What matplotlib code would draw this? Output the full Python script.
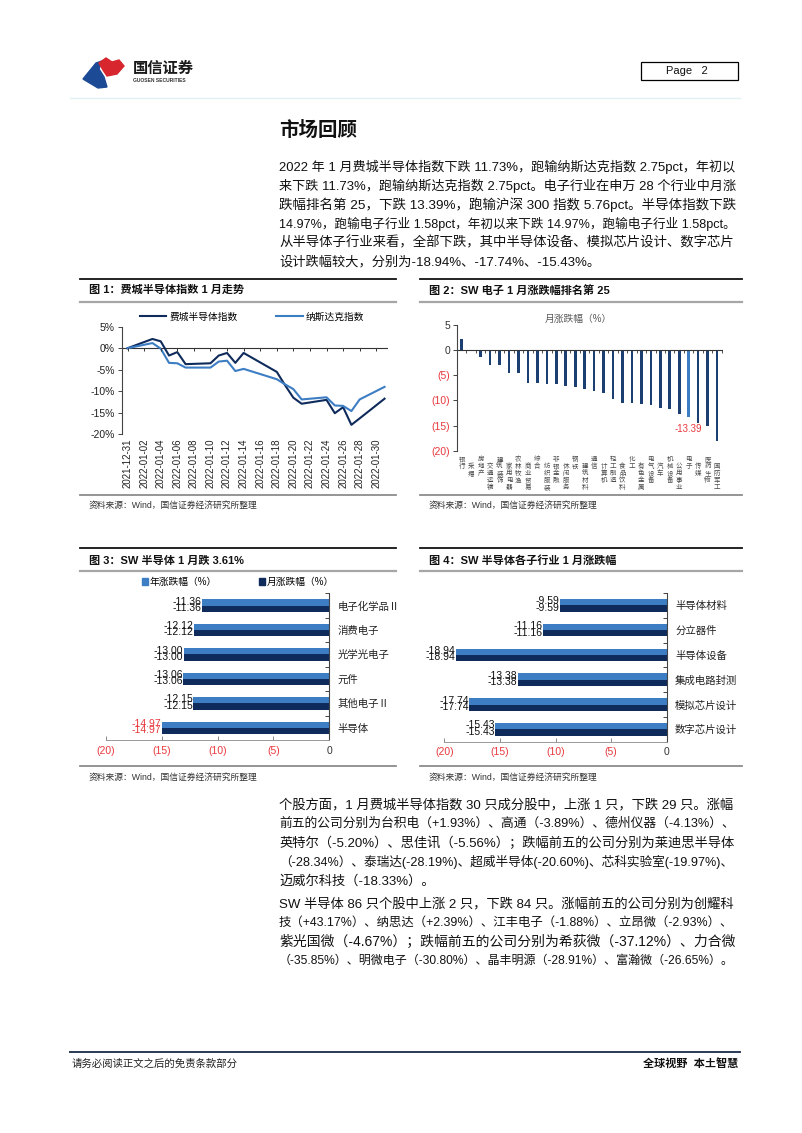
import matplotlib
matplotlib.use("Agg")
import matplotlib.pyplot as plt
import matplotlib.transforms as mtransforms
from matplotlib.lines import Line2D
from matplotlib.patches import Patch, Polygon, Rectangle
import numpy as np
import pandas as pd

plt.rcParams['font.family'] = ['Liberation Sans', 'Noto Sans CJK SC']
plt.rcParams['axes.unicode_minus'] = False

# ---- data -----------------------------------------------------------------
dates = ["2021-12-31", "2022-01-03", "2022-01-04", "2022-01-05", "2022-01-06",
         "2022-01-07", "2022-01-10", "2022-01-11", "2022-01-12", "2022-01-13",
         "2022-01-14", "2022-01-18", "2022-01-19", "2022-01-20", "2022-01-21",
         "2022-01-24", "2022-01-25", "2022-01-26", "2022-01-27", "2022-01-28",
         "2022-01-31"]
sox = [0, 2.15, 1.6, -1.7, -0.9, -3.7, -3.5, -1.7, -1.1, -3.4, -1.1, -5.5,
       -8.6, -11.5, -12.9, -12.0, -15.1, -13.7, -17.8, -16.3, -11.73]
nasdaq = [0, 1.2, -0.1, -3.4, -3.5, -4.5, -4.5, -3.1, -2.9, -5.3, -4.8, -7.2,
          -8.4, -9.5, -11.9, -11.4, -13.3, -13.4, -14.6, -11.9, -8.98]

sw_inds = ["银行", "采掘", "房地产", "交通运输", "建筑装饰", "家用电器", "农林牧渔",
           "商业贸易", "综合", "纺织服装", "非银金融", "休闲服务", "钢铁", "建筑材料",
           "通信", "计算机", "轻工制造", "食品饮料", "化工", "有色金属", "电气设备",
           "汽车", "机械设备", "公用事业", "电子", "传媒", "医药生物", "国防军工"]
sw_chg = [2.3, -0.1, -1.3, -2.9, -2.9, -4.6, -4.6, -6.6, -6.6, -6.7, -6.7, -7.2,
          -7.4, -7.7, -8.2, -8.5, -9.7, -10.6, -10.6, -10.8, -10.9, -11.6, -11.8,
          -12.8, -13.39, -14.4, -15.0, -18.0]

elec_subs = ["电子化学品Ⅱ", "消费电子", "光学光电子", "元件", "其他电子Ⅱ", "半导体"]
elec_year = [-11.36, -12.12, -13.00, -13.06, -12.15, -14.97]
elec_month = [-11.36, -12.12, -13.00, -13.06, -12.15, -14.97]

semi_subs = ["半导体材料", "分立器件", "半导体设备", "集成电路封测", "模拟芯片设计", "数字芯片设计"]
semi_year = [-9.59, -11.16, -18.94, -13.38, -17.74, -15.43]
semi_month = [-9.59, -11.16, -18.94, -13.38, -17.74, -15.43]

para1 = ["2022 年 1 月费城半导体指数下跌 11.73%，跑输纳斯达克指数 2.75pct，年初以",
         "来下跌 11.73%，跑输纳斯达克指数 2.75pct。电子行业在申万 28 个行业中月涨",
         "跌幅排名第 25，下跌 13.39%，跑输沪深 300 指数 5.76pct。半导体指数下跌",
         "14.97%，跑输电子行业 1.58pct，年初以来下跌 14.97%，跑输电子行业 1.58pct。",
         "从半导体子行业来看，全部下跌，其中半导体设备、模拟芯片设计、数字芯片",
         "设计跌幅较大，分别为-18.94%、-17.74%、-15.43%。"]
para2 = ["个股方面，1 月费城半导体指数 30 只成分股中，上涨 1 只，下跌 29 只。涨幅",
         "前五的公司分别为台积电（+1.93%）、高通（-3.89%）、德州仪器（-4.13%）、",
         "英特尔（-5.20%）、思佳讯（-5.56%）；跌幅前五的公司分别为莱迪思半导体",
         "（-28.34%）、泰瑞达(-28.19%)、超威半导体(-20.60%)、芯科实验室(-19.97%)、",
         "迈威尔科技（-18.33%）。"]
para3 = ["SW 半导体 86 只个股中上涨 2 只，下跌 84 只。涨幅前五的公司分别为创耀科",
         "技（+43.17%）、纳思达（+2.39%）、江丰电子（-1.88%）、立昂微（-2.93%）、",
         "紫光国微（-4.67%）；跌幅前五的公司分别为希荻微（-37.12%）、力合微",
         "（-35.85%）、明微电子（-30.80%）、晶丰明源（-28.91%）、富瀚微（-26.65%）。"]

# ---- page -----------------------------------------------------------------
W, H = 802, 1133
fig = plt.figure(figsize=(W / 100, H / 100), dpi=100)
fig.patch.set_facecolor("white")
renderer = fig.canvas.get_renderer()

DARK = "#0F2B5C"
MID = "#3C7DC4"
RED = "#E8383D"


def fx(x):
    return x / W


def fy(y):
    return 1 - y / H


def add_ax(x0, y0, x1, y1):
    return fig.add_axes([x0 / W, 1 - y1 / H, (x1 - x0) / W, (y1 - y0) / H])


def hline(x0, x1, y, color, lw):
    fig.add_artist(Line2D([fx(x0), fx(x1)], [fy(y), fy(y)], transform=fig.transFigure,
                          color=color, lw=lw))


def measure(s, size):
    t = fig.text(0, 0, s, fontsize=size)
    w = t.get_window_extent(renderer).width
    t.remove()
    return w


def body_line(x, y, s, last, size=9.5, width=458):
    # bars on both sides so that glyph side bearings are counted
    w = measure("|" + s + "|", size) - measure("||", size)
    if not last or w > 0.9 * width:
        size = size * min(max(width / w, 0.9), 1.05)
    return fig.text(fx(x), fy(y), s, fontsize=size, va="center", ha="left", color="#111111")


# header
blue_shape = [(83, 79), (96, 63), (102, 61), (99, 69), (104, 77), (107, 87), (98, 88)]
red_shape = [(99, 63), (106, 58), (112, 62), (119, 60), (124, 66), (117, 74), (107, 76), (103, 70)]
fig.add_artist(Polygon([(fx(a), fy(b)) for a, b in blue_shape], closed=True,
                       transform=fig.transFigure, color="#1D4A94"))
fig.add_artist(Polygon([(fx(a), fy(b)) for a, b in red_shape], closed=True,
                       transform=fig.transFigure, color="#D7262E"))
fig.text(fx(133), fy(69), "国信证券", fontsize=11, fontweight="bold", va="center", color="#1a1a1a")
fig.text(fx(133), fy(81), "GUOSEN SECURITIES", fontsize=3.6, fontweight="bold", va="center",
         color="#333333")
fig.add_artist(Rectangle((fx(641), fy(80)), (738 - 641) / W, 18 / H, transform=fig.transFigure,
                         fill=False, edgecolor="black", lw=0.9))
fig.text(fx(666), fy(71), "Page   2", fontsize=8, va="center", color="#111111")
hline(70, 740, 98, "#e3f0f3", 1.0)

# text section
fig.text(fx(279), fy(131), "市场回顾", fontsize=14, fontweight="bold", va="center", color="#111111")
for i, s in enumerate(para1):
    body_line(279, 167 + 19 * i, s, i == len(para1) - 1)
for i, s in enumerate(para2):
    body_line(279, 805 + 19 * i, s, i == len(para2) - 1)
for i, s in enumerate(para3):
    body_line(279, 904 + 19 * i, s, i == len(para3) - 1)

# panel frames
panels = [(80, 396, 279, 290, 302, 495, 505, "图 1：费城半导体指数 1 月走势"),
          (420, 742, 279, 290, 302, 495, 505, "图 2：SW 电子 1 月涨跌幅排名第 25"),
          (80, 396, 548, 561, 571, 766, 777, "图 3：SW 半导体 1 月跌 3.61%"),
          (420, 742, 548, 561, 571, 766, 777, "图 4：SW 半导体各子行业 1 月涨跌幅")]
for x0, x1, ytop, ytitle, ygray, ybot, ysrc, title in panels:
    hline(x0, x1, ytop, "#111111", 1.3)
    hline(x0, x1, ygray, "#a6a6a6", 1.6)
    hline(x0, x1, ybot, "#8c8c8c", 1.3)
    fig.text(fx(x0 + 9), fy(ytitle), title, fontsize=8, fontweight="bold", va="center",
             color="#111111")
    fig.text(fx(x0 + 9), fy(ysrc), "资料来源：Wind，国信证券经济研究所整理", fontsize=6.3,
             va="center", color="#333333")

# ---- chart 1 --------------------------------------------------------------
ax1 = add_ax(121.7, 326.7, 388, 434.3)
d = pd.to_datetime(dates)
ax1.plot(d, sox, color=DARK, lw=1.5, label="费城半导体指数")
ax1.plot(d, nasdaq, color=MID, lw=1.5, label="纳斯达克指数")
ticks = pd.date_range("2021-12-31", "2022-01-30", freq="2D")
ax1.set_xticks(ticks)
ax1.set_xticklabels([t.strftime("%Y-%m-%d") for t in ticks], rotation=90, fontsize=7,
                    color="#222222")
ax1.tick_params(axis="x", length=0, pad=3)
ax1.set_xlim(pd.Timestamp("2021-12-31") - pd.Timedelta(hours=17),
             pd.Timestamp("2022-01-31") + pd.Timedelta(hours=10))
ax1.set_ylim(-20, 5)
ax1.set_yticks([5, 0, -5, -10, -15, -20])
ax1.set_yticklabels(["5%", "0%", "-5%", "-10%", "-15%", "-20%"], fontsize=7.5, color="#222222")
ax1.tick_params(axis="y", length=3, width=0.7, color="#444444", pad=2)
for s in ["top", "right", "bottom"]:
    ax1.spines[s].set_visible(False)
ax1.spines["left"].set_color("#444444")
ax1.spines["left"].set_linewidth(0.8)
ax1.axhline(0, color="#333333", lw=0.8, zorder=1)
ax1.vlines(ticks, -0.7, 0, color="#333333", lw=0.7)
ax1.legend(loc="center", bbox_to_anchor=(fx(252), fy(316.7)), bbox_transform=fig.transFigure,
           ncol=2, frameon=False, fontsize=7, handlelength=2.7, columnspacing=4.0,
           handletextpad=0.3)
ax1.patch.set_alpha(0)

# ---- chart 2 --------------------------------------------------------------
ax2 = add_ax(457, 325, 722.7, 450.7)
xs = np.arange(len(sw_inds))
cols = [MID if n == "电子" else "#1B3F72" for n in sw_inds]
ax2.bar(xs, sw_chg, width=0.28, color=cols)
ax2.set_xlim(-0.5, 27.6)
ax2.set_ylim(-20, 5)
ax2.set_yticks([5, 0, -5, -10, -15, -20])
ax2.set_yticklabels(["5", "0", "(5)", "(10)", "(15)", "(20)"], fontsize=7.5)
for lab, v in zip(ax2.get_yticklabels(), [5, 0, -5, -10, -15, -20]):
    lab.set_color(RED if v < 0 else "#333333")
ax2.tick_params(axis="y", length=3, width=0.7, color="#444444", pad=2)
ax2.set_xticks([])
for s in ["top", "right", "bottom"]:
    ax2.spines[s].set_visible(False)
ax2.spines["left"].set_color("#444444")
ax2.spines["left"].set_linewidth(0.8)
ax2.axhline(0, color="#333333", lw=0.8)
ax2.vlines(np.arange(-0.5, 27.6, 1.0), -0.5, 0, color="#333333", lw=0.6)
trans2 = mtransforms.blended_transform_factory(ax2.transData, ax2.transAxes)
for i, name in enumerate(sw_inds):
    yoff = -0.045 - (0.055 if i % 2 else 0.0)
    ax2.text(i, yoff, "\n".join(name), transform=trans2, ha="center", va="top",
             fontsize=4.7, linespacing=1.0, color="#4a4a4a")
idx = sw_inds.index("电子")
ax2.text(idx, -15.7, "%.2f" % sw_chg[idx], ha="center", va="center", fontsize=7, color=RED)
fig.text(fx(578), fy(319), "月涨跌幅（%）", fontsize=7, ha="center", va="center", color="#595959")
ax2.patch.set_alpha(0)


# ---- charts 3 & 4 ---------------------------------------------------------
def hbar_panel(ax, cats, yr, mo, red_last):
    ys = np.arange(len(cats))
    h = 0.255
    ax.barh(ys - h / 2, yr, height=h, color=MID, label="年涨跌幅（%）")
    ax.barh(ys + h / 2, mo, height=h, color=DARK, label="月涨跌幅（%）")
    ax.set_xlim(-20, 0)
    ax.set_ylim(len(cats) - 0.5, -0.5)
    for i, (a, b) in enumerate(zip(yr, mo)):
        c = RED if (red_last and i == len(cats) - 1) else "#111111"
        ax.text(a - 0.05, i - h / 2 - 0.03, "%.2f" % a, ha="right", va="center", fontsize=7.5,
                color=c)
        ax.text(b - 0.05, i + h / 2 - 0.03, "%.2f" % b, ha="right", va="center", fontsize=7.5,
                color=c)
    ax.yaxis.tick_right()
    ax.set_yticks(ys)
    ax.set_yticklabels(cats, fontsize=7.5, color="#222222")
    ax.tick_params(axis="y", which="major", length=0, pad=6)
    ax.set_yticks(np.arange(-0.5, len(cats), 1.0), minor=True)
    ax.tick_params(axis="y", which="minor", direction="in", length=3, width=0.7, color="#444444")
    ax.set_xticks([-20, -15, -10, -5, 0])
    ax.set_xticklabels(["(20)", "(15)", "(10)", "(5)", "0"], fontsize=7.5)
    for lab, v in zip(ax.get_xticklabels(), [-20, -15, -10, -5, 0]):
        lab.set_color(RED if v < 0 else "#333333")
    ax.tick_params(axis="x", length=3, width=0.7, color="#888888", direction="in", pad=4)
    for s in ["top", "left"]:
        ax.spines[s].set_visible(False)
    ax.spines["right"].set_color("#444444")
    ax.spines["right"].set_linewidth(0.8)
    ax.spines["bottom"].set_color("#999999")
    ax.spines["bottom"].set_linewidth(0.7)
    ax.patch.set_alpha(0)


ax3 = add_ax(105.7, 593.3, 329.3, 740)
hbar_panel(ax3, elec_subs, elec_year, elec_month, True)
ax3.legend(handles=[Patch(color=MID, label="年涨跌幅（%）"), Patch(color=DARK, label="月涨跌幅（%）")],
           loc="center", bbox_to_anchor=(fx(238), fy(582)), bbox_transform=fig.transFigure,
           ncol=2, frameon=False, fontsize=7, handlelength=0.6, handleheight=0.6,
           handletextpad=0.2, columnspacing=4.3)

ax4 = add_ax(444.3, 593, 666.7, 741.7)
hbar_panel(ax4, semi_subs, semi_year, semi_month, False)

# footer
hline(70, 740, 1052, "#2b3a55", 1.4)
fig.text(fx(72), fy(1064), "请务必阅读正文之后的免责条款部分", fontsize=7.5, va="center", color="#222222")
fig.text(fx(738), fy(1064), "全球视野  本土智慧", fontsize=8, va="center", ha="right",
         fontweight="bold", style="italic", color="#111111")

fig.savefig("out.png", dpi=100)
